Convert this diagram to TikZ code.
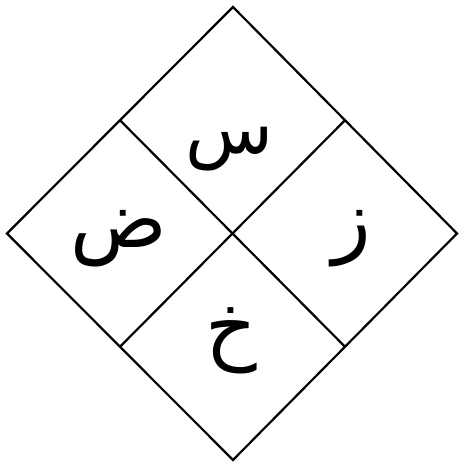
\documentclass[tikz,border=0pt]{standalone}
\usepackage{fontspec}
\usetikzlibrary{calc}
\TeXXeTstate=1
\newfontfamily\arabicfont[Script=Arabic]{DejaVu Sans}
\tikzset{
  edge/.style={line width=2.2pt, line join=miter},
  letter/.style={font=\arabicfont\fontsize{80}{84}\selectfont, inner sep=0pt}
}
\begin{document}
\begin{tikzpicture}[x=1pt,y=1pt]
\useasboundingbox (0,0) rectangle (459,463);
\coordinate (T) at (233,456);
\coordinate (R) at (457,229.5);
\coordinate (B) at (233,3);
\coordinate (L) at (7,229.5);
\coordinate (TL) at ($(T)!0.5!(L)$);
\coordinate (TR) at ($(T)!0.5!(R)$);
\coordinate (BL) at ($(B)!0.5!(L)$);
\coordinate (BR) at ($(B)!0.5!(R)$);
\draw[edge] (T) -- (R) -- (B) -- (L) -- cycle;
\draw[edge] (TL) -- (BR);
\draw[edge] (TR) -- (BL);
\node[letter, font=\arabicfont\fontsize{72}{76}\selectfont] (s) at (229,314) {\beginR س\endR};
\node[letter] (z) at (352,224) {\beginR ز\endR};
\node[letter] (d) at (119,224) {\beginR ض\endR};
\node[letter] (kh) at (231,122) {\beginR خ\endR};
\end{tikzpicture}
\end{document}
